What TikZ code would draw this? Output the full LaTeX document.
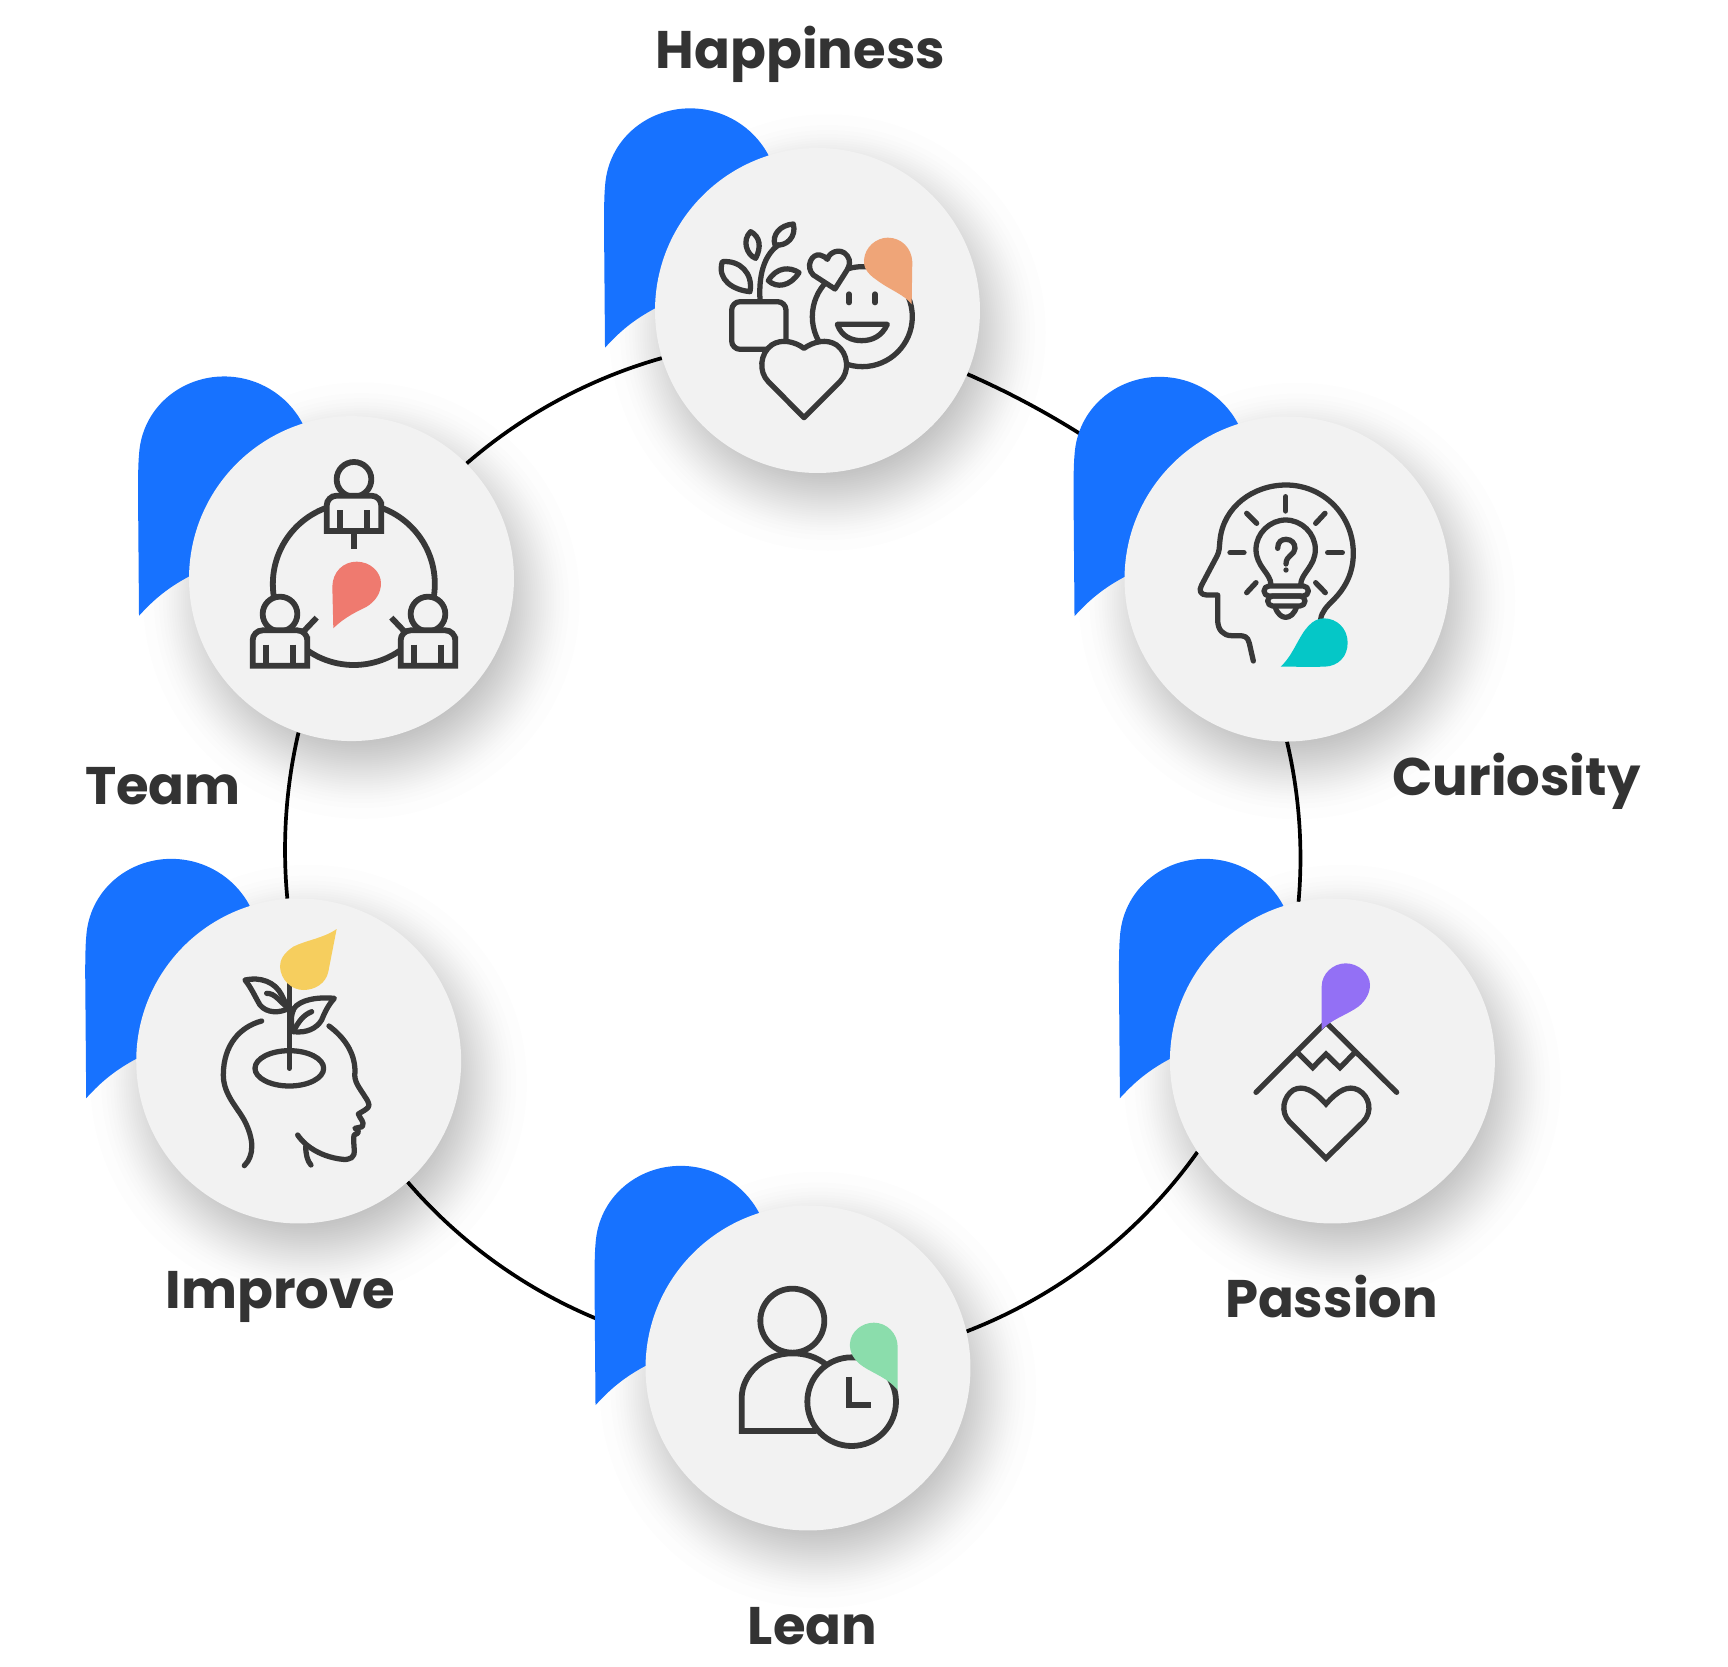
\documentclass[tikz,border=0pt]{standalone}
\usepackage{fontspec}
\setmainfont{Poppins}
\usetikzlibrary{backgrounds}
\definecolor{inkc}{HTML}{383838}
\definecolor{discc}{HTML}{F2F2F2}
\definecolor{blobc}{HTML}{1772FF}
\definecolor{labelc}{HTML}{333333}
\definecolor{dropa}{HTML}{EFA578}
\definecolor{dropb}{HTML}{05C7C7}
\definecolor{dropc}{HTML}{EF7A6F}
\definecolor{dropd}{HTML}{F6CE5E}
\definecolor{drope}{HTML}{9370F5}
\definecolor{dropf}{HTML}{8BDDAC}
\tikzset{
  disc/.style={circle,fill=discc,draw=none,inner sep=0pt,minimum size=6.5cm},
  lab/.style={text=labelc,font=\fontsize{30.1}{36}\selectfont\bfseries,inner sep=0pt},
  ringline/.style={draw=black,line width=2.1pt},
  iconline/.style={draw=inkc,line width=3pt,line cap=round,line join=round},
  squareline/.style={draw=inkc,line width=3.3pt,line cap=butt,line join=miter},
  zoomed/.style={x=0.0066667cm,y=-0.0066667cm},
}
\newcommand{\softshadow}[1]{%
  \foreach \z in {-2.13,-1.7,-1.5,-1.34,-1.2,-1.1,-1.0,-.9,-.8,-.72,-.62,-.54,-.46,-.37,-.28,-.2,-.12,-.04,.04,.12,.2,.28,.37,.46,.54,.62,.72,.8,.9,1.0,1.1,1.2,1.34,1.5,1.7,2.13}{%
    \fill[black,opacity=.0068] (#1) ++(10,22) circle[radius={165+25*\z}];}}
\newcommand{\blobat}[1]{%
  \begin{scope}[shift={(#1)},zoomed,shift={(-682.5,-661.5)}]
    \fill[blobc] (45,773) -- (42,400) .. controls (42,350) and (43,310) .. (45,290)
      .. controls (53,150) and (170,55) .. (300,55)
      .. controls (400,55) and (490,110) .. (535,195)
      -- (682,661) -- (195,655) .. controls (120,695) and (80,735) .. cycle;
  \end{scope}}
\begin{document}
\begin{tikzpicture}[x=0.02cm,y=-0.02cm]
\useasboundingbox (0,0) rectangle (1728,1667);
\begin{scope}[on background layer]
\fill[white] (0,0) rectangle (1728,1667);
\end{scope}

% shadows, blobs and discs
\softshadow{817.5,310.5}\softshadow{1287,579}\softshadow{1332.4,1061}
\softshadow{808,1368}\softshadow{298.7,1061}\softshadow{351.5,578.6}
\blobat{817.5,310.5}\blobat{1287,579}\blobat{1332.4,1061}
\blobat{808,1368}\blobat{298.7,1061}\blobat{351.5,578.6}
\node[disc] (hap) at (817.5,310.5) {};
\node[disc] (cur) at (1287,579) {};
\node[disc] (pas) at (1332.4,1061) {};
\node[disc] (lea) at (808,1368) {};
\node[disc] (imp) at (298.7,1061) {};
\node[disc] (tea) at (351.5,578.6) {};

% ring
\begin{scope}[on background layer]
\draw[ringline] (hap.-23.3) to[bend left=7.3,looseness=.853] (cur.145.2);
\draw[ringline] (cur.-90.4) to[bend left=9.15,looseness=.855] (pas.102.5);
\draw[ringline] (pas.214.8) to[bend left=16.7,looseness=.87] (lea.13.6);
\draw[ringline] (lea.169.2) to[bend left=16.5,looseness=.87] (imp.-48.7);
\draw[ringline] (imp.94.7) to[bend left=9.3,looseness=.855] (tea.-109.3);
\draw[ringline] (tea.45.3) to[bend left=12.6,looseness=.86] (hap.197.7);
\end{scope}

% labels
\node[lab] (lhap) at (800.5,54.5) {Happiness};
\node[lab] (lcur) at (1516.5,781) {Curiosity};
\node[lab] (ltea) at (163,786) {Team};
\node[lab] (limp) at (280.5,1296.5) {Improve};
\node[lab] (lpas) at (1331.5,1297) {Passion};
\node[lab] (llea) at (812.5,1626) {Lean};

% Happiness icon
\begin{scope}[shift={(590,90)},zoomed]
  \draw[iconline,rounded corners=0.17cm] (425,635) rectangle (588,778);
  \draw[iconline] (510,630) .. controls (505,540) and (530,490) .. (565,465);
  \draw[iconline] (482,425) .. controls (455,450) and (470,495) .. (497,505) .. controls (515,470) and (510,440) .. cycle;
  \draw[iconline] (397,515) .. controls (450,510) and (490,550) .. (480,605) .. controls (430,600) and (380,570) .. cycle;
  \draw[iconline] (535,572) .. controls (560,530) and (600,530) .. (627,548) .. controls (600,590) and (560,595) .. cycle;
  \draw[iconline] (610,402) .. controls (570,405) and (545,435) .. (555,465) .. controls (590,470) and (620,440) .. cycle;
  \draw[iconline] (817,680) circle[radius=150];
  \draw[iconline,fill=discc] (735,597) -- (670,555) .. controls (645,530) and (665,490) .. (690,495) .. controls (700,497) and (708,503) .. (712,508) .. controls (720,480) and (765,470) .. (778,510) .. controls (780,525) and (775,535) .. (765,550) -- cycle;
  \draw[iconline] (777,612) -- (777,638);
  \draw[iconline] (855,612) -- (855,638);
  \draw[iconline] (742,703) -- (892,703) .. controls (875,740) and (845,752) .. (815,752) .. controls (785,752) and (755,740) .. cycle;
  \draw[iconline,fill=discc] (642,983) -- (535,875) .. controls (505,845) and (510,790) .. (545,765) .. controls (575,745) and (615,755) .. (642,775) .. controls (670,755) and (710,745) .. (740,765) .. controls (775,790) and (780,845) .. (750,875) -- cycle;
  \fill[dropa] (965,643) .. controls (945,615) and (900,600) .. (860,570) .. controls (830,550) and (820,530) .. (822,510) .. controls (825,470) and (860,443) .. (893,443) .. controls (935,443) and (965,475) .. (967,515) -- cycle;
\end{scope}

% Curiosity icon
\begin{scope}[shift={(1170,460)},zoomed]
  \draw[iconline] (250,603) -- (238,550) .. controls (233,530) and (225,527) .. (205,527) -- (185,527) .. controls (160,527) and (143,510) .. (143,480) -- (143,405) -- (110,405) .. controls (92,405) and (85,392) .. (95,375) -- (140,290) .. controls (150,270) and (147,265) .. (150,240) .. controls (160,140) and (250,75) .. (348,75) .. controls (460,75) and (550,165) .. (550,280) .. controls (550,340) and (525,385) .. (490,420) .. controls (470,440) and (455,455) .. (452,478);
  \foreach \a/\b/\c/\d in {347/110/347/153,230/160/260/190,465/160/437/190,180/278/222/278,473/278/517/278,230/398/258/368,466/398/437/368}
    \draw[iconline] (\a,\b) -- (\c,\d);
  \draw[iconline] (303,375) .. controls (303,340) and (258,320) .. (258,268) .. controls (258,220) and (300,180) .. (347,180) .. controls (395,180) and (436,220) .. (436,268) .. controls (436,320) and (392,340) .. (392,375);
  \draw[iconline,rounded corners=0.1cm] (282,378) rectangle (415,408);
  \draw[iconline,rounded corners=0.1cm] (293,408) rectangle (405,438);
  \draw[iconline] (315,440) .. controls (322,462) and (335,472) .. (347,472) .. controls (360,472) and (373,462) .. (380,440);
  \draw[iconline] (323,265) .. controls (323,245) and (335,238) .. (348,238) .. controls (365,238) and (375,250) .. (375,265) .. controls (375,285) and (348,285) .. (348,312);
  \fill[inkc] (348,330) circle[radius=8];
  \fill[dropb] (332,620) .. controls (370,585) and (385,530) .. (415,498) .. controls (430,482) and (445,475) .. (462,475) .. controls (500,475) and (533,505) .. (533,548) .. controls (533,590) and (505,618) .. (465,620) .. controls (420,621) and (375,620) .. cycle;
\end{scope}

% Team icon
\begin{scope}[shift={(230,445)},zoomed]
  \draw[squareline] (371.5,417) circle[radius=243];
  \foreach \dx/\dy in {0/0,-222/404,222/404}{
    \begin{scope}[shift={(\dx,\dy)}]
      \draw[squareline,fill=discc] (372,103) circle[radius=52];
      \draw[squareline,fill=discc,rounded corners=0.2cm] (290,258) [sharp corners] -- (290,200) [rounded corners=0.2cm] -- (290,152) -- (454,152) -- (454,200) [sharp corners] -- (454,258) -- cycle;
      \draw[squareline] (331,195) -- (331,258);
      \draw[squareline] (412,195) -- (412,258);
    \end{scope}}
  \draw[squareline] (372,258) -- (372,313);
  \draw[squareline] (260,518) -- (222,558);
  \draw[squareline] (484,518) -- (522,558);
  \fill[dropc] (310,550) .. controls (345,515) and (385,498) .. (410,485) .. controls (435,470) and (453,445) .. (453,415) .. controls (453,380) and (420,350) .. (380,350) .. controls (340,350) and (308,380) .. (307,425) -- cycle;
\end{scope}

% Improve icon
\begin{scope}[shift={(200,915)},zoomed]
  \draw[iconline] (185,318) .. controls (120,335) and (70,390) .. (70,480) .. controls (70,540) and (115,580) .. (135,620) .. controls (160,670) and (165,720) .. (133,752);
  \draw[iconline] (387,333) .. controls (430,365) and (465,410) .. (465,470) .. controls (460,500) and (480,520) .. (495,545) .. controls (512,570) and (510,575) .. (495,585) -- (475,597) .. controls (480,612) and (495,620) .. (487,635) -- (465,640) .. controls (480,648) and (478,655) .. (462,660) .. controls (458,690) and (470,720) .. (455,728) .. controls (440,735) and (430,735) .. (420,732) .. controls (370,725) and (320,700) .. (293,660);
  \draw[iconline] (317,695) .. controls (318,720) and (322,738) .. (333,750);
  \draw[iconline] (268,460) ellipse[x radius=103,y radius=53];
  \draw[iconline] (268,205) -- (268,460);
  \draw[iconline] (135,195) .. controls (180,185) and (225,200) .. (245,240) -- (265,280) .. controls (240,295) and (200,295) .. (180,270) .. controls (165,245) and (155,220) .. cycle;
  \draw[iconline] (200,235) .. controls (225,235) and (235,255) .. (265,280);
  \draw[iconline] (403,250) .. controls (350,245) and (300,255) .. (282,280) .. controls (272,300) and (272,325) .. (280,350) .. controls (320,355) and (350,340) .. (365,315) .. controls (375,290) and (385,270) .. cycle;
  \draw[iconline] (335,290) .. controls (310,300) and (295,320) .. (280,350);
  \fill[dropd] (410,42) .. controls (370,70) and (320,75) .. (280,95) .. controls (250,115) and (240,135) .. (240,155) .. controls (242,195) and (275,225) .. (310,225) .. controls (345,225) and (378,205) .. (385,170) -- cycle;
\end{scope}

% Passion icon
\begin{scope}[shift={(1230,950)},zoomed]
  \draw[iconline,line join=miter] (78,427) -- (288,217) -- (500,427);
  \draw[iconline,line cap=butt,line join=miter] (205,310) -- (248,353) -- (288,312) -- (330,353) -- (372,310);
  \draw[iconline,line join=miter] (288,625) -- (178,515) .. controls (150,485) and (160,440) .. (190,420) .. controls (220,405) and (250,420) .. (288,462) .. controls (325,420) and (355,405) .. (385,420) .. controls (420,440) and (428,485) .. (400,515) -- cycle;
  \fill[drope] (275,240) .. controls (300,210) and (350,195) .. (385,170) .. controls (410,150) and (420,125) .. (420,105) .. controls (420,70) and (385,40) .. (347,40) .. controls (310,40) and (275,70) .. (275,110) -- cycle;
\end{scope}

% Lean icon
\begin{scope}[shift={(720,1270)},zoomed]
  \draw[squareline] (217,152) circle[radius=96];
  \draw[squareline] (320,285) .. controls (290,260) and (255,250) .. (217,250) .. controls (135,250) and (65,310) .. (65,385) -- (65,483) -- (290,483);
  \draw[squareline,fill=discc] (395,395) circle[radius=133];
  \draw[squareline] (387,320) -- (387,405) -- (453,405);
  \fill[dropf] (533,360) .. controls (505,325) and (460,310) .. (430,290) .. controls (400,270) and (388,245) .. (390,220) .. controls (392,185) and (425,158) .. (462,158) .. controls (500,158) and (533,190) .. (533,230) -- cycle;
\end{scope}
\end{tikzpicture}
\end{document}
